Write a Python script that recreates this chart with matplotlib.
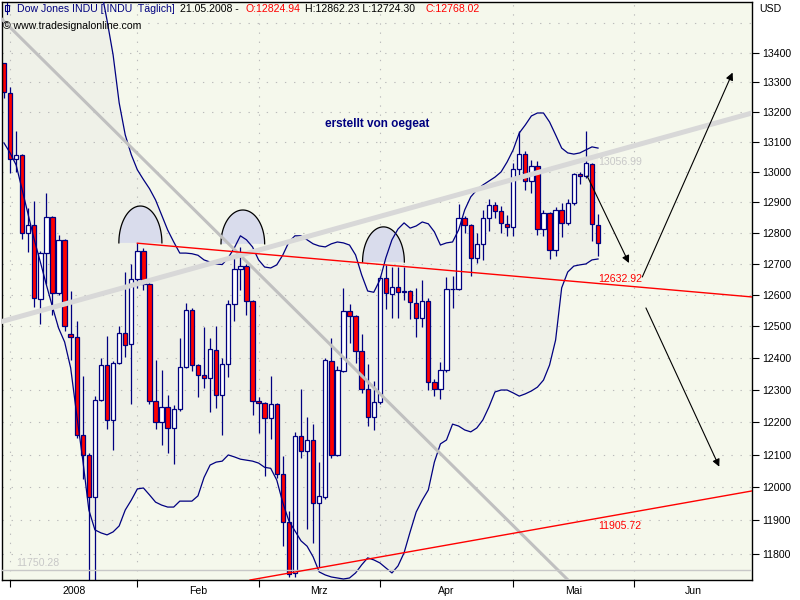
import numpy as np
import matplotlib
matplotlib.use("Agg")
import matplotlib.pyplot as plt
from matplotlib.lines import Line2D
from matplotlib.patches import Rectangle
from matplotlib.ticker import FixedLocator, NullLocator, FixedFormatter, NullFormatter

plt.rcParams["font.family"] = ["Liberation Sans", "DejaVu Sans"]

# daily candles, 31.12.2007 .. 21.05.2008
opens = [13365, 13262, 13044, 13057, 12801, 12827, 12589, 12735, 12853, 12606,
         12778, 12476, 12466, 12159, 12099, 11971, 12270, 12378, 12207, 12384,
         12480, 12443, 12650, 12743, 12635, 12265, 12200, 12247, 12182, 12240,
         12373, 12552, 12377, 12348, 12337, 12427, 12284, 12381, 12570, 12685,
         12694, 12582, 12266, 12259, 12214, 12255, 12040, 11894, 11741, 12157,
         12110, 12146, 11951, 11972, 12392, 12100, 12361, 12548, 12532, 12422,
         12302, 12216, 12263, 12654, 12605, 12626, 12609, 12612, 12576, 12527,
         12582, 12325, 12302, 12362, 12619, 12620, 12849, 12825, 12720, 12763,
         12849, 12892, 12872, 12831, 12820, 13010, 13058, 12969, 13020, 12814,
         12866, 12745, 12876, 12832, 12898, 12992, 12987, 13026, 12824.94]
highs = [13366, 13285, 13135, 13060, 12882, 12905, 12742, 12930, 12856, 12795,
         12780, 12612, 12517, 12345, 12105, 12280, 12400, 12470, 12390, 12502,
         12675, 12700, 12767, 12750, 12640, 12395, 12362, 12283, 12253, 12465,
         12575, 12560, 12380, 12497, 12462, 12502, 12400, 12585, 12724, 12755,
         12700, 12585, 12279, 12262, 12345, 12260, 12096, 11928, 12170, 12303,
         12216, 12193, 12077, 12400, 12462, 12375, 12623, 12571, 12535, 12476,
         12380, 12328, 12660, 12697, 12691, 12691, 12691, 12617, 12622, 12649,
         12590, 12335, 12389, 12658, 12660, 12895, 12855, 12830, 12801, 12876,
         12910, 12900, 12888, 12860, 13030, 13136, 13070, 13040, 13035, 12875,
         12868, 12885, 12898, 12910, 12998, 13000, 13136, 13030, 12862.23]
lows = [13245, 12995, 13000, 12782, 12738, 12562, 12508, 12636, 12538, 12600,
        12486, 12395, 12150, 12025, 11634, 11635, 12265, 12180, 12115, 12380,
        12402, 12255, 12622, 12615, 12258, 12178, 12130, 12105, 12072, 12235,
        12368, 12360, 12277, 12305, 12232, 12245, 12160, 12340, 12518, 12615,
        12538, 12222, 12166, 12036, 12148, 12028, 11822, 11731, 11731, 12090,
        11874, 11832, 11761, 11965, 12090, 12095, 12355, 12449, 12384, 12290,
        12188, 12177, 12258, 12555, 12526, 12526, 12585, 12525, 12468, 12497,
        12300, 12280, 12272, 12355, 12560, 12615, 12800, 12660, 12702, 12713,
        12805, 12850, 12801, 12790, 12790, 12986, 12940, 12932, 12794, 12790,
        12715, 12724, 12786, 12825, 12890, 12960, 12980, 12775, 12724.30]
closes = [13264.82, 13043.96, 13056.72, 12800.18, 12827.49, 12589.07, 12735.31, 12853.09, 12606.30, 12778.15,
          12501.11, 12466.16, 12159.21, 12099.30, 11971.19, 12270.17, 12378.61, 12207.17, 12383.89, 12480.30,
          12442.83, 12650.36, 12743.19, 12635.16, 12265.13, 12200.10, 12247.00, 12182.13, 12240.01, 12373.41,
          12552.24, 12376.98, 12348.21, 12337.22, 12427.26, 12284.30, 12381.02, 12570.22, 12684.92, 12694.28,
          12582.18, 12266.39, 12258.90, 12213.80, 12254.99, 12040.39, 11893.69, 11740.15, 12156.81, 12110.24,
          12145.74, 11951.09, 11972.25, 12392.66, 12099.66, 12361.32, 12548.64, 12532.60, 12422.86, 12302.46,
          12216.40, 12262.89, 12654.36, 12605.83, 12626.03, 12609.42, 12612.43, 12576.44, 12527.26, 12581.98,
          12325.42, 12302.06, 12362.47, 12619.27, 12620.49, 12849.36, 12825.02, 12720.23, 12763.22, 12848.95,
          12891.86, 12871.75, 12831.45, 12820.13, 13010.00, 13058.20, 12969.54, 13020.83, 12814.35, 12866.78,
          12745.88, 12876.31, 12832.18, 12898.38, 12992.66, 12986.80, 13028.16, 12828.68, 12768.02]

# Bollinger bands
bb_upper = [13950, 13940, 13930, 13915, 13900, 13885, 13870, 13850, 13830, 13810,
            13790, 13765, 13740, 13715, 13690, 13660, 13620, 13510, 13392, 13230,
            13123, 13057, 13007, 12975, 12945, 12908, 12859, 12810, 12771, 12735,
            12735, 12733, 12728, 12713, 12706, 12700, 12698, 12720, 12752, 12791,
            12778, 12755, 12713, 12690, 12687, 12697, 12729, 12771, 12791, 12791,
            12778, 12765, 12758, 12755, 12765, 12771, 12768, 12761, 12729, 12665,
            12613, 12609, 12648, 12720, 12778, 12813, 12833, 12816, 12823, 12836,
            12830, 12804, 12761, 12768, 12771, 12810, 12875, 12918, 12941, 12957,
            12970, 12983, 13000, 13033, 13073, 13129, 13156, 13186, 13196, 13196,
            13166, 13123, 13079, 13063, 13059, 13063, 13073, 13083, 13079]
bb_lower = [13096, 13063, 13023, 12941, 12859, 12778, 12706, 12632, 12562, 12495,
            12451, 12369, 12222, 12083, 11931, 11871, 11862, 11856, 11865, 11883,
            11931, 11961, 11995, 11998, 11977, 11955, 11946, 11940, 11940, 11958,
            11958, 11958, 11974, 12030, 12068, 12077, 12080, 12099, 12093, 12086,
            12083, 12080, 12074, 12061, 12058, 12022, 11953, 11898, 11868, 11838,
            11822, 11790, 11745, 11736, 11730, 11727, 11724, 11727, 11742, 11766,
            11787, 11781, 11772, 11757, 11742, 11763, 11802, 11865, 11925, 11961,
            11992, 12077, 12133, 12145, 12194, 12188, 12176, 12170, 12182, 12207,
            12247, 12294, 12300, 12300, 12291, 12281, 12288, 12297, 12309, 12331,
            12378, 12457, 12623, 12674, 12693, 12697, 12700, 12713, 12716]

month_starts = [1, 22, 42, 62, 84, 104]
month_labels = ["2008", "Feb", "Mrz", "Apr", "Mai", "Jun"]
price_ticks = list(range(11800, 13401, 100))
grid_prices = list(range(11800, 13501, 100))

# drawn objects: (bar, price) end points
grey_down = ([-0.7, 93.1], [13521, 11720])
grey_up = ([-0.7, 123.4], [12514, 13196])
red_down = ([22, 123.4], [12767, 12594])
red_up = ([40.6, 123.4], [11721, 11989])
support_level = 11750.28
arrows = [((96.2, 12987), (103.1, 12703)),
          ((105.3, 12658), (120.2, 13332)),
          ((105.9, 12559), (118.0, 12063))]
# head shapes: centre bar, base price, top price, half width in bars
heads = [(22.5, 12768, 12888, 3.55), (39.4, 12765, 12875, 3.6), (62.6, 12706, 12820, 3.45)]

navy = "#000080"
bg = "#F5F8EC"
band_fill = "#EFF1E8"

fig = plt.figure(figsize=(8, 6), dpi=100, facecolor="white")
ax = fig.add_axes([2 / 800, 20 / 600, 750 / 800, 578 / 600])
ax.set_facecolor(bg)
ax.set_yscale("log")
ax.set_xlim(-0.33, 123.4)
ax.set_ylim(11721, 13573)

x = np.arange(len(closes))
ax.fill_between(x, bb_lower, bb_upper, color=band_fill, lw=0, zorder=0.5)

for p in grid_prices:
    ax.axhline(p, color="#BBBBBB", lw=0.8, ls=(0, (1.2, 7)), zorder=0.8)
for m in month_starts:
    ax.axvline(m, color="#BBBBBB", lw=0.8, ls=(0, (1.2, 7)), zorder=0.8)

# head shapes
t = np.linspace(0, np.pi, 80)
for cx, base, top, hw in heads:
    hx = cx + hw * np.cos(t)
    hy = base * (top / base) ** np.sin(t)
    ax.fill(hx, hy, color="#D9DCEC", lw=0, zorder=1)
    ax.plot(hx, hy, color="black", lw=0.9, zorder=1.1)

# candles
o = np.array(opens)
c = np.array(closes)
ax.vlines(x, lows, highs, color=navy, lw=0.9, zorder=2)
body_low = np.minimum(o, c)
body_h = np.maximum(np.abs(c - o), 2)
colors = ["#FF0000" if cc < oo else "white" for oo, cc in zip(o, c)]
ax.bar(x, body_h, bottom=body_low, width=0.72, color=colors, edgecolor=navy,
       linewidth=0.9, zorder=2.2)

ax.plot(x, bb_upper, color=navy, lw=0.9, zorder=3)
ax.plot(x, bb_lower, color=navy, lw=0.9, zorder=3)

# trend lines
ax.plot(*grey_down, color="#C0C0C0", lw=2.2, zorder=4, solid_capstyle="butt")
ax.plot(*grey_up, color="#D8D8D8", lw=3.6, zorder=4, solid_capstyle="butt")
ax.plot(*red_down, color="#FF0000", lw=1.0, zorder=4.1)
ax.plot(*red_up, color="#FF0000", lw=1.0, zorder=4.1)
ax.axhline(support_level, color="#C8C8C8", lw=1.0, zorder=4)

ax.text(98, 13056.99 * 0.9993, "13056.99", color="#C8C8C8", fontsize=7.6,
        ha="left", va="top", zorder=5)
ax.text(98, 12632.92 * 1.0002, "12632.92", color="#FF0000", fontsize=7.6,
        ha="left", va="bottom", zorder=5)
ax.text(98, 11905.72 * 0.9993, "11905.72", color="#FF0000", fontsize=7.6,
        ha="left", va="top", zorder=5)
ax.text(2, support_level * 1.0005, "11750.28", color="#C8C8C8", fontsize=7.6,
        ha="left", va="bottom", zorder=5)

for start, end in arrows:
    ax.annotate("", xy=end, xytext=start,
                arrowprops=dict(arrowstyle="-|>", color="black", lw=0.8,
                                mutation_scale=11, shrinkA=0, shrinkB=0),
                zorder=6)

ax.text(61.5, 13159, "erstellt von oegeat", color=navy, fontsize=8.5,
        fontweight="bold", ha="center", va="center", zorder=6)

# axes
for s in ax.spines.values():
    s.set_color("black")
    s.set_linewidth(1.0)
ax.yaxis.tick_right()
ax.yaxis.set_major_locator(FixedLocator(price_ticks))
ax.yaxis.set_major_formatter(FixedFormatter([str(p) for p in price_ticks]))
ax.yaxis.set_minor_locator(NullLocator())
ax.yaxis.set_minor_formatter(NullFormatter())
ax.tick_params(axis="y", direction="out", length=5, width=0.8, pad=2,
               labelsize=7.6, colors="black")

mids = [(a + b) / 2 for a, b in zip(month_starts, month_starts[1:] + [123.4])]
ax.xaxis.set_major_locator(FixedLocator(month_starts))
ax.xaxis.set_major_formatter(NullFormatter())
ax.xaxis.set_minor_locator(FixedLocator(mids))
ax.xaxis.set_minor_formatter(FixedFormatter(month_labels))
ax.tick_params(axis="x", which="major", direction="out", length=5, width=0.8)
ax.tick_params(axis="x", which="minor", length=0, pad=4, labelsize=7.6)

# header


def fx(px):
    return px / 800


def fy(py):
    return 1 - py / 600


fig.add_artist(Line2D([fx(7), fx(7)], [fy(3), fy(14)], color=navy, lw=0.8))
fig.add_artist(Rectangle((fx(5), fy(11)), 4 / 800, 6 / 600, facecolor="white",
                         edgecolor=navy, lw=0.8))
hdr = [(17, "Dow Jones INDU [.INDU  Täglich]", navy),
       (180, "21.05.2008 -", "black"),
       (246, "O:12824.94", "#FF0000"),
       (305, "H:12862.23 L:12724.30", "black"),
       (425, "C:12768.02", "#FF0000")]
for px, s, col in hdr:
    fig.text(fx(px), fy(8.5), s, color=col, fontsize=7.6, ha="left", va="center")
fig.text(fx(3), fy(26), "\u00a9 www.tradesignalonline.com", color="black",
         fontsize=7.6, ha="left", va="center")
fig.text(fx(759), fy(8.5), "USD", color="black", fontsize=7.6, ha="left", va="center")

fig.savefig("out.png", dpi=100)
